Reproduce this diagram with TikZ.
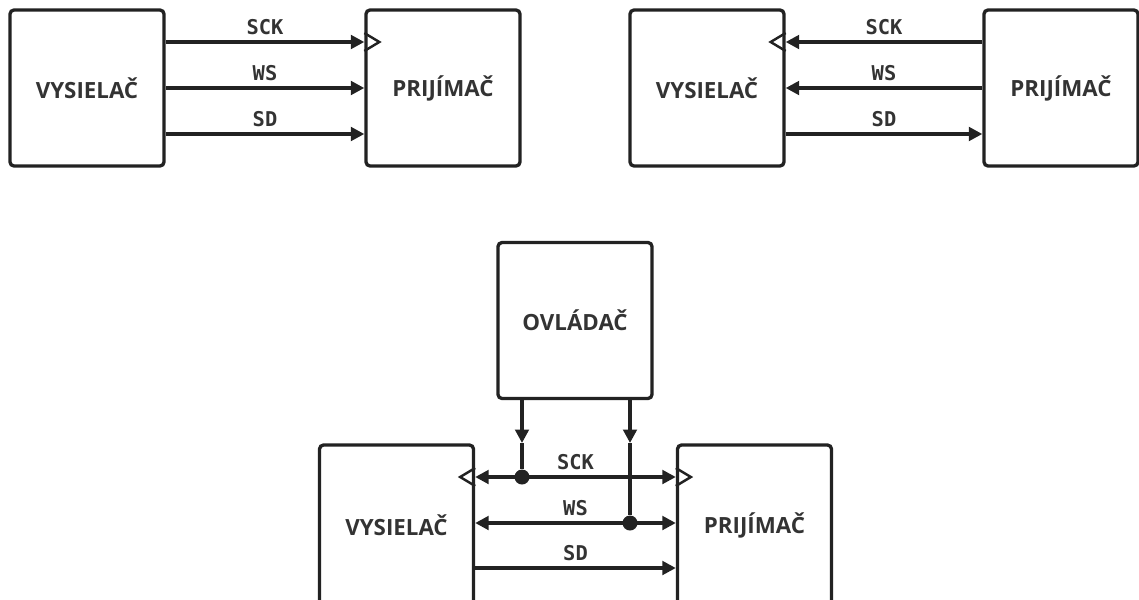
\documentclass[tikz,border=0pt]{standalone}
\usepackage{fontspec}
\setmainfont{Open Sans}
\newfontfamily\sigfont{DejaVu Sans Mono}
\usetikzlibrary{arrows.meta, positioning}
\definecolor{ink}{HTML}{222222}
\definecolor{txt}{HTML}{333333}

\begin{document}
\begin{tikzpicture}[x=0.02cm, y=-0.02cm,
        block/.style={draw=ink, line width=1.9pt, rounded corners=0.08cm, minimum width=3.08cm, minimum height=3.12cm, text=txt, font=\fontsize{12.7}{14}\selectfont\bfseries},
        wire/.style={draw=ink, line width=1.9pt},
        sig/.style={wire, -{Triangle[length=2.7mm, width=2.7mm]}},
        sigboth/.style={wire, {Triangle[length=2.7mm, width=2.7mm]}-{Triangle[length=2.7mm, width=2.7mm]}},
        lbl/.style={text=txt, font=\sigfont\bfseries\fontsize{11.6}{13}\selectfont, above=0pt},
        clk/.style={draw=ink, line width=1.4pt, line join=miter},
        dot/.style={circle, fill=ink, inner sep=0pt, minimum size=0.3cm}]
        \useasboundingbox (0,0) rectangle (1139,599);

        % Signal rows
        \coordinate (r1) at (0,42);
        \coordinate (r2) at (0,88);
        \coordinate (r3) at (0,134);
        \coordinate (r4) at (0,477);
        \coordinate (r5) at (0,523);
        \coordinate (r6) at (0,568);

        % Transmitter is master
        \node[block] (tx1) at (87,88) {VYSIELAČ};
        \node[block] (rx1) at (443,88) {PRIJÍMAČ};
        \draw[sig] (tx1.east |- r1) -- node[lbl] {SCK} (rx1.west |- r1);
        \draw[sig] (tx1.east |- r2) -- node[lbl] {WS} (rx1.west |- r2);
        \draw[sig] (tx1.east |- r3) -- node[lbl] {SD} (rx1.west |- r3);
        \draw[clk] (rx1.west |- r1) ++(0,-9) -- ++(15,9) -- ++(-15,9);

        % Receiver is master
        \node[block] (tx2) at (707,88) {VYSIELAČ};
        \node[block] (rx2) at (1061,88) {PRIJÍMAČ};
        \draw[sig] (rx2.west |- r1) -- node[lbl] {SCK} (tx2.east |- r1);
        \draw[sig] (rx2.west |- r2) -- node[lbl] {WS} (tx2.east |- r2);
        \draw[sig] (tx2.east |- r3) -- node[lbl] {SD} (rx2.west |- r3);
        \draw[clk] (tx2.east |- r1) ++(0,-9) -- ++(-15,9) -- ++(15,9);

        % Controller is master
        \node[block] (ctl) at (575,320.5) {OVLÁDAČ};
        \node[block, minimum height=3.2cm] (tx3) at (396.5,525) {VYSIELAČ};
        \node[block, minimum height=3.2cm] (rx3) at (754.5,525) {PRIJÍMAČ};
        \node[dot] (j1) at (522,477) {};
        \node[dot] (j2) at (630,523) {};
        \coordinate (t1) at (522,443);
        \coordinate (t2) at (630,443);
        \draw[sigboth] (tx3.east |- r4) -- node[lbl] {SCK} (rx3.west |- r4);
        \draw[sigboth] (tx3.east |- r5) -- node[lbl] {WS} (rx3.west |- r5);
        \draw[sig] (tx3.east |- r6) -- node[lbl] {SD} (rx3.west |- r6);
        \draw[sig] (ctl.south -| j1) -- (t1);
        \draw[wire] (t1) -- (j1);
        \draw[sig] (ctl.south -| j2) -- (t2);
        \draw[wire] (t2) -- (j2);
        \draw[clk] (tx3.east |- r4) ++(0,-9) -- ++(-15,9) -- ++(15,9);
        \draw[clk] (rx3.west |- r4) ++(0,-9) -- ++(15,9) -- ++(-15,9);
    \end{tikzpicture}
\end{document}
